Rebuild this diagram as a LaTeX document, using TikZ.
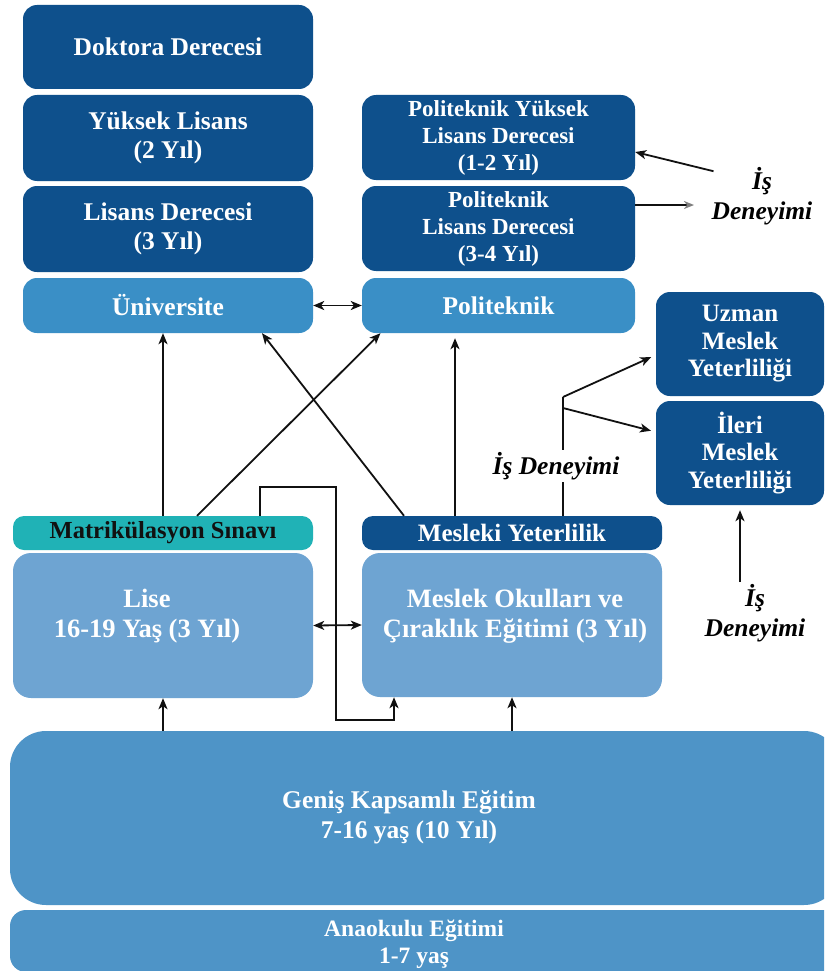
\documentclass[tikz,border=0pt]{standalone}
\usepackage{fontspec}
\setmainfont{Liberation Serif}[
  UprightFont={Liberation Serif},
  BoldFont={Liberation Serif Bold},
  ItalicFont={Liberation Serif Italic},
  BoldItalicFont={Liberation Serif Bold Italic}]
\usetikzlibrary{arrows.meta,calc}
\definecolor{navy}{HTML}{0E508C}
\definecolor{midblue}{HTML}{3A8FC6}
\definecolor{paleblue}{HTML}{6EA4D2}
\definecolor{baseblue}{HTML}{4E94C7}
\definecolor{tealbar}{HTML}{20B2B6}
\definecolor{ink}{HTML}{111111}
\newcommand\boxfont[2]{\rmfamily\bfseries\fontsize{#1}{#2}\selectfont}
\begin{document}
\begin{tikzpicture}[x=1pt,y=-1pt,
  >={Stealth[length=11pt,width=9pt,inset=3pt]},
  box/.style={rounded corners=14pt, inner sep=0pt, align=center, text=white,
    font=\boxfont{25.5}{28.5}},
  dark/.style={box, fill=navy},
  mid/.style={box, fill=midblue},
  pale/.style={box, fill=paleblue, rounded corners=18pt},
  base/.style={box, fill=baseblue},
  conn/.style={line width=1.8pt, draw=ink, ->},
  twoway/.style={line width=1.8pt, draw=ink, <->},
  plain/.style={line width=1.8pt, draw=ink},
  work/.style={font=\rmfamily\bfseries\itshape\fontsize{25.5}{29.5}\selectfont, align=center,
    text=black, inner sep=2pt}
]
\clip (0,0) rectangle (824,971);
\fill[white] (0,0) rectangle (824,971);

% university column
\node[dark, minimum width=290pt, minimum height=84pt] (doc) at (168,47) {Doktora Derecesi};
\node[dark, minimum width=290pt, minimum height=86pt] (yl) at (168,138) {Yüksek Lisans\\(2 Yıl)};
\node[dark, minimum width=290pt, minimum height=86pt] (lis) at (168,229) {Lisans Derecesi\\(3 Yıl)};
\node[mid, minimum width=290pt, minimum height=55pt] (uni) at (168,305.5) {Üniversite};

% polytechnic column
\node[dark, font=\boxfont{23}{27}, minimum width=273pt, minimum height=85pt] (pyl) at (498.5,137.5) {Politeknik Yüksek\\Lisans Derecesi\\(1-2 Yıl)};
\node[dark, font=\boxfont{23}{27}, minimum width=273pt, minimum height=85pt] (pl) at (498.5,228.5) {Politeknik\\Lisans Derecesi\\(3-4 Yıl)};
\node[mid, minimum width=273pt, minimum height=55pt] (pol) at (498.5,305.5) {Politeknik};

% vocational qualifications
\node[dark, font=\boxfont{25}{27.5}, minimum width=168pt, minimum height=104pt] (uzm) at (740,344) {Uzman\\Meslek\\Yeterliliği};
\node[dark, font=\boxfont{25}{27.5}, minimum width=168pt, minimum height=104pt] (ileri) at (740,453) {İleri\\Meslek\\Yeterliliği};

% upper secondary
\node[box, fill=tealbar, text=ink, font=\boxfont{24.5}{28}, rounded corners=11pt, minimum width=300pt, minimum height=34pt] (mat) at (163,533) {Matrikülasyon Sınavı};
\node[dark, font=\boxfont{25}{28}, rounded corners=11pt, minimum width=300pt, minimum height=34pt] (mes) at (512,533) {Mesleki Yeterlilik};
\node[pale, minimum width=300pt, minimum height=145pt] (lise) at (163,625.5) {};
\node[box, font=\boxfont{26.5}{30}] (liseT) at (147,616) {Lise\\16-19 Yaş (3 Yıl)};
\node[pale, minimum width=300pt, minimum height=144pt] (mok) at (512,625) {};
\node[box, font=\boxfont{26.5}{30}] (mokT) at (515,616) {Meslek Okulları ve\\Çıraklık Eğitimi (3 Yıl)};

% basic education
\node[base, rounded corners=36pt, minimum width=830pt, minimum height=174pt] (gen) at (425,818) {};
\node[box, font=\boxfont{25.5}{30}] (genT) at (409,817) {Geniş Kapsamlı Eğitim\\7-16 yaş (10 Yıl)};
\node[base, rounded corners=16pt, minimum width=830pt, minimum height=62pt] (ana) at (425,941) {};
\node[box, font=\boxfont{23.5}{27.5}] (anaT) at (414,944) {Anaokulu Eğitimi\\1-7 yaş};

% work experience labels
\node[work] (is1) at (762,196) {İş\\Deneyimi};
\node[work] (is3) at (755,613) {İş\\Deneyimi};
\coordinate (w1) at (694,205);
\coordinate (br) at (563,397);
\coordinate (lt) at (336,487);
\coordinate (lb) at (336,720);

% connectors
\draw[twoway] (uni.east) -- (pol.west);
\draw[twoway] (lise.east) -- (mok.west);
\draw[conn] (mat.north) -- (mat.north |- uni.south);
\draw[conn] ([xshift=34pt]mat.north) -- ([xshift=-118pt]pol.south);
\draw[conn] ([xshift=-108pt]mes.north) -- ([xshift=94pt]uni.south);
\draw[conn, shorten >=5pt] ([xshift=-57pt]mes.north) -- ([xshift=-57pt]mes.north |- pol.south);
\draw[conn] ([xshift=97pt]mat.north) |- (lt) -- (lb) -| ([xshift=-118pt]mok.south);
\draw[conn] (lise.south |- gen.north) -- (lise.south);
\draw[conn] (mok.south |- gen.north) -- (mok.south);

\draw[plain] ([xshift=51pt]mes.north) -- (br);
\draw[conn, shorten >=5pt] (br) -- ([yshift=-11pt]uzm.west);
\draw[conn, shorten >=5pt] ([yshift=-11pt]br) -- ([yshift=21pt]ileri.west);
\node[work, fill=white, rounded corners=8pt, inner xsep=5pt] (is2) at (556,466) {İş Deneyimi};

\draw[conn, shorten >=5pt] (ileri.south |- is3.north) -- (ileri.south);
\draw[conn] ([xshift=4pt,yshift=-6pt]is1.north west) -- ([yshift=-14.5pt]pyl.east);
\draw[plain, -{Stealth[length=10pt,width=8pt,inset=3pt,color=gray]}] ([yshift=23.5pt]pl.east) -- (w1);
\end{tikzpicture}
\end{document}
